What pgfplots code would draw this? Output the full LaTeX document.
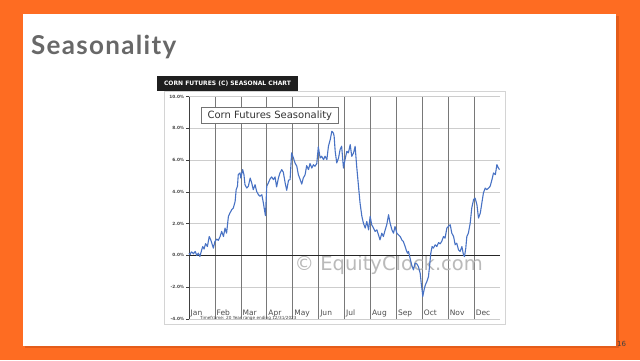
\documentclass[border=0pt]{standalone}
\usepackage{pgfplots}
\pgfplotsset{compat=1.18}
\usepackage{fontspec}
\setmainfont{DejaVu Sans}
\newfontfamily\titlefont[LetterSpace=5]{Lato}
\definecolor{slideorange}{RGB}{254,108,34}
\definecolor{shadeorange}{RGB}{228,92,26}
\definecolor{titlegray}{RGB}{104,104,104}
\definecolor{linecol}{RGB}{72,114,196}
\definecolor{vgrid}{RGB}{120,120,120}
\definecolor{hgrid}{RGB}{205,205,205}
\definecolor{framegray}{RGB}{212,212,212}
\definecolor{wm}{RGB}{186,186,186}
\begin{document}
\begin{tikzpicture}
\begin{scope}[x=1pt,y=1pt]
\useasboundingbox (0,0) rectangle (640,360);
\fill[slideorange] (0,0) rectangle (640,360);
\fill[shadeorange] (25,12) rectangle (618.5,344);
\fill[white] (23,14.3) rectangle (616,346);
\node[anchor=base west, inner sep=0pt, text=titlegray] at (31,306)
  {\titlefont\bfseries\fontsize{26}{30}\selectfont Seasonality};
\node[anchor=base west, inner sep=0pt, text=black!75] at (617,14)
  {\fontsize{7}{8}\selectfont 16};
\draw[framegray, line width=0.8pt] (164,35.7) rectangle (505.5,269);
\fill[black!88] (157,269) rectangle (298,284);
\node[text=white, inner sep=0pt] at (227.5,276.5)
  {\bfseries\fontsize{6}{7}\selectfont CORN FUTURES (C) SEASONAL CHART};
\end{scope}
\begin{axis}[
  at={(189pt,41pt)}, anchor=south west,
  scale only axis, width=311pt, height=222.5pt,
  xmin=0, xmax=12, ymin=-4, ymax=10,
  axis y line*=left, axis x line*=bottom,
  x axis line style={draw=none},
  y axis line style={black!75, line width=0.8pt},
  xtick={0,...,11},
  xticklabels={Jan,Feb,Mar,Apr,May,Jun,Jul,Aug,Sep,Oct,Nov,Dec},
  xtick style={draw=none},
  xticklabel style={anchor=base west, inner sep=0pt, xshift=1.5pt, yshift=6.6pt,
    text=black!70, font=\fontsize{7.5}{9}\selectfont},
  ytick={-4,-2,...,10},
  ytick style={draw=black!75, line width=0.6pt},
  tick align=outside, major tick length=3pt,
  yticklabel={\pgfmathprintnumber[fixed,fixed zerofill,precision=1]{\tick}\%},
  yticklabel style={inner sep=0pt, xshift=-1.5pt, text=black!72,
    font=\bfseries\fontsize{4.3}{5}\selectfont},
  /pgf/number format/assume math mode=true,
  ymajorgrids, major grid style={hgrid, line width=0.5pt},
  extra x ticks={1,...,11}, extra x tick labels={},
  extra x tick style={xmajorgrids=true, major grid style={vgrid, line width=0.6pt}},
  clip=false,
]
\node[anchor=base west, inner sep=0pt, text=wm] at (axis cs:4.07,-0.97)
  {\fontsize{19.5}{22}\selectfont © EquityClock.com};
\addplot[black!85, line width=0.8pt] coordinates {(0,0) (12,0)};
\addplot[linecol, line width=1.1pt, line join=round] coordinates {
(0.00,0.14) (0.04,0.04) (0.09,0.22) (0.13,0.19) (0.17,0.10) (0.24,0.25)
(0.30,0.00) (0.36,0.14) (0.42,-0.07) (0.49,0.35) (0.53,0.56) (0.58,0.40)
(0.64,0.74) (0.71,0.56) (0.78,1.19) (0.84,0.98) (0.90,0.67) (0.94,0.46)
(1.00,0.88) (1.07,1.03) (1.13,0.95) (1.20,1.19) (1.26,1.51) (1.33,1.19)
(1.39,1.72) (1.45,1.40) (1.52,2.45) (1.58,2.67) (1.65,2.88) (1.71,2.98)
(1.78,3.40) (1.82,4.14) (1.87,4.35) (1.90,5.08) (1.97,5.19) (2.00,4.87)
(2.07,5.40) (2.12,5.08) (2.16,4.45) (2.23,4.24) (2.29,4.35) (2.36,4.87)
(2.42,4.56) (2.48,4.14) (2.55,4.45) (2.61,4.03) (2.68,3.82) (2.74,3.72)
(2.81,3.82) (2.87,3.30) (2.91,2.88) (2.95,2.50) (3.00,4.35) (3.06,4.56)
(3.13,4.82) (3.19,4.94) (3.26,4.77) (3.32,4.94) (3.38,4.31) (3.45,4.87)
(3.51,5.19) (3.58,5.40) (3.64,5.23) (3.71,4.56) (3.77,4.10) (3.84,4.73)
(3.90,4.77) (3.96,6.45) (4.03,6.13) (4.09,5.82) (4.16,5.61) (4.22,5.08)
(4.29,4.77) (4.35,4.49) (4.41,4.87) (4.48,5.08) (4.54,5.65) (4.61,5.40)
(4.67,5.78) (4.74,5.50) (4.80,5.71) (4.86,5.61) (4.93,5.78) (4.99,6.83)
(5.06,6.13) (5.12,6.24) (5.19,6.03) (5.25,6.24) (5.32,6.03) (5.38,6.87)
(5.45,7.29) (5.51,7.81) (5.57,7.71) (5.60,7.50) (5.64,6.56) (5.70,5.82)
(5.77,6.13) (5.83,6.66) (5.89,6.87) (5.96,5.50) (6.02,6.03) (6.09,6.55)
(6.15,6.45) (6.22,6.97) (6.28,6.24) (6.35,6.45) (6.41,6.87) (6.47,5.61)
(6.54,4.35) (6.60,3.30) (6.67,2.46) (6.73,2.03) (6.80,1.72) (6.86,2.14)
(6.93,1.61) (6.99,2.46) (7.05,1.93) (7.12,1.72) (7.18,1.51) (7.25,1.61)
(7.31,1.30) (7.37,0.98) (7.44,1.40) (7.50,1.19) (7.57,1.61) (7.63,1.93)
(7.70,2.56) (7.76,2.03) (7.83,1.61) (7.89,1.40) (7.95,1.82) (8.02,1.40)
(8.08,1.30) (8.15,1.19) (8.21,0.98) (8.27,0.88) (8.34,0.56) (8.38,0.35)
(8.43,0.14) (8.47,0.25) (8.53,-0.17) (8.59,-0.59) (8.66,-0.91) (8.72,-0.49)
(8.79,-0.53) (8.85,-0.70) (8.92,-1.12) (8.96,-1.75) (9.00,-2.27) (9.02,-2.59)
(9.07,-2.17) (9.12,-1.85) (9.18,-1.64) (9.24,-1.33) (9.28,-0.70) (9.33,0.14)
(9.38,0.56) (9.43,0.46) (9.50,0.67) (9.56,0.56) (9.63,0.81) (9.69,0.73)
(9.75,0.88) (9.82,1.19) (9.88,1.09) (9.95,1.72) (10.01,1.82) (10.08,1.93)
(10.14,1.40) (10.21,1.19) (10.27,0.67) (10.33,0.77) (10.40,0.35) (10.46,0.25)
(10.53,0.56) (10.59,0.04) (10.63,-0.07) (10.68,0.46) (10.72,1.19) (10.78,1.40)
(10.85,2.03) (10.91,2.98) (10.98,3.51) (11.04,3.61) (11.11,3.19) (11.17,2.35)
(11.24,2.67) (11.30,3.30) (11.36,3.93) (11.43,4.24) (11.49,4.14) (11.56,4.24)
(11.62,4.35) (11.69,4.77) (11.75,5.19) (11.82,5.08) (11.88,5.71) (11.94,5.50)
(11.98,5.40)
};
\end{axis}
\begin{scope}[x=1pt,y=1pt]
\draw[black!55, line width=0.6pt, fill=white] (201.7,236.7) rectangle (338,252.3);
\node[text=black!80, inner sep=0pt] at (269.85,244.3)
  {\fontsize{10}{12}\selectfont Corn Futures Seasonality};
\node[anchor=base west, inner sep=0pt, text=black!75] at (200,40.6)
  {\fontsize{4.2}{5}\selectfont Timeframe: 20 Year range ending 12/31/2023};
\end{scope}
\end{tikzpicture}
\end{document}
